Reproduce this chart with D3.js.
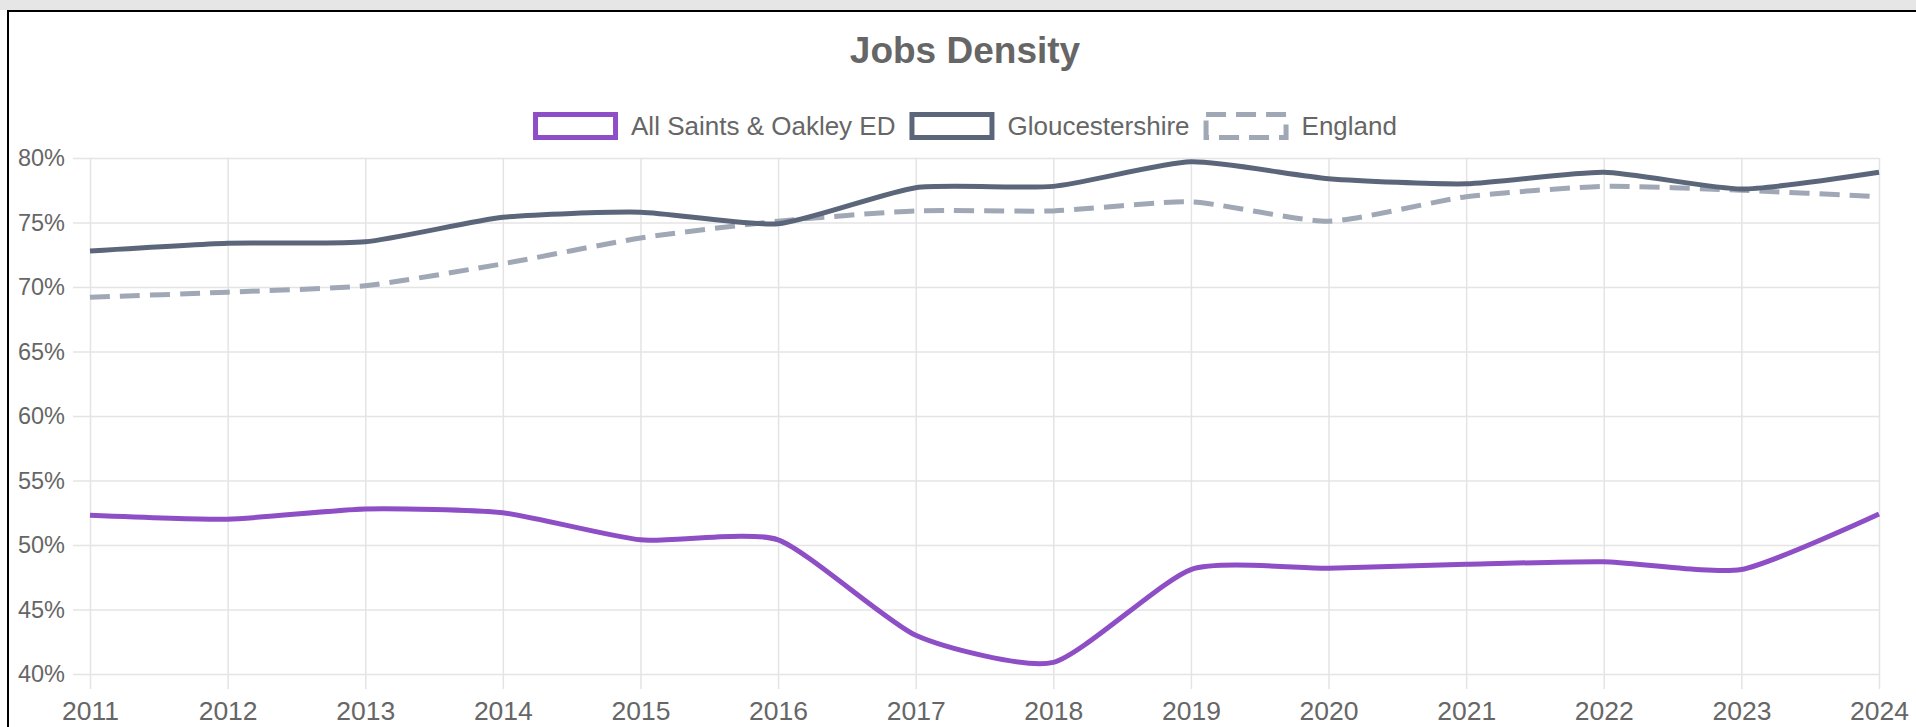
<!DOCTYPE html>
<html>
<head>
<meta charset="utf-8">
<script src="https://cdn.jsdelivr.net/npm/d3@7"></script>
<style>
  body { margin: 0; background: #fff; overflow: hidden; }
  .topbar { position: absolute; left: 0; top: 0; width: 1916px; height: 10px; background: #e6e6e6; }
  .frame { position: absolute; left: 7px; top: 10px; width: 1920px; height: 730px;
           border-top: 2px solid #000; border-left: 2px solid #000; }
  svg { position: absolute; left: 0; top: 0; }
  text { font-family: "Liberation Sans", Arial, sans-serif; fill: #666; }
</style>
</head>
<body>
<div class="topbar"></div>
<div class="frame"></div>
<svg id="chart" width="1916" height="727"></svg>
<script>
const years = ["2011","2012","2013","2014","2015","2016","2017","2018","2019","2020","2021","2022","2023","2024"];
const allSaints = [52.3, 52.0, 52.8, 52.5, 50.4, 50.4, 43.0, 40.9, 48.1, 48.2, 48.5, 48.7, 48.1, 52.4];
const glos      = [72.8, 73.4, 73.5, 75.4, 75.8, 74.9, 77.7, 77.8, 79.7, 78.4, 78.0, 78.9, 77.6, 78.9];
const england   = [69.2, 69.6, 70.1, 71.8, 73.8, 75.1, 75.9, 75.9, 76.6, 75.1, 77.0, 77.8, 77.5, 77.0];
const yTicks = [40, 45, 50, 55, 60, 65, 70, 75, 80];

const series = [
  { name: "All Saints & Oakley ED", values: allSaints, color: "#8e4ec6", dash: null },
  { name: "Gloucestershire", values: glos, color: "#5c667a", dash: null },
  { name: "England", values: england, color: "#a0a7b5", dash: "20,10" }
];

const plotL = 90, plotR = 1879, plotT = 158, plotB = 674;
const svg = d3.select("#chart");

const x = d3.scalePoint().domain(years).range([plotL, plotR]);
const y = d3.scaleLinear().domain([40, 80]).range([plotB, plotT]);

// y axis + horizontal grid
const gy = svg.append("g").attr("transform", `translate(${plotL},0)`)
  .call(d3.axisLeft(y).tickValues(yTicks).tickSize(17).tickPadding(8).tickFormat(d => d + "%"));
gy.select(".domain").remove();
gy.selectAll(".tick line").attr("x1", plotR - plotL).attr("stroke", "#e4e4e4").attr("stroke-width", 1.5);
gy.selectAll(".tick text").attr("font-size", "23.5px").attr("fill", "#666");

// x axis + vertical grid
const gx = svg.append("g").attr("transform", `translate(0,${plotB})`)
  .call(d3.axisBottom(x).tickSize(15).tickPadding(12));
gx.select(".domain").remove();
gx.selectAll(".tick line").attr("y1", plotT - plotB).attr("stroke", "#e4e4e4").attr("stroke-width", 1.5);
gx.selectAll(".tick text").attr("font-size", "26.5px").attr("fill", "#666");

// lines, lightly smoothed
const line = d3.line()
  .x((d, i) => x(years[i]))
  .y(d => y(d))
  .curve(d3.curveCardinal.tension(0.4));

svg.append("g").selectAll("path")
  .data(series.slice().reverse())
  .enter().append("path")
    .attr("d", d => line(d.values))
    .attr("fill", "none")
    .attr("stroke", d => d.color)
    .attr("stroke-width", 5)
    .attr("stroke-dasharray", d => d.dash)
    .attr("stroke-linejoin", "round");

// title
svg.append("text")
  .attr("x", 965).attr("y", 63)
  .attr("text-anchor", "middle")
  .attr("font-size", "37px").attr("font-weight", "bold")
  .text("Jobs Density");

// legend
const boxW = 80, boxH = 23, gap = 13, itemGap = 14;
const legend = svg.append("g");
const items = legend.selectAll("g").data(series).enter().append("g");
items.append("rect")
  .attr("x", 2.5).attr("y", -11.5)
  .attr("width", boxW).attr("height", boxH)
  .attr("fill", "none")
  .attr("stroke", d => d.color)
  .attr("stroke-width", 5)
  .attr("stroke-dasharray", d => d.dash);
items.append("text")
  .attr("x", boxW + 5 + gap).attr("y", 0).attr("dy", "0.35em")
  .attr("font-size", "26px")
  .text(d => d.name);

let widths = [];
items.each(function() { widths.push(boxW + 5 + gap + d3.select(this).select("text").node().getComputedTextLength()); });
const total = d3.sum(widths) + itemGap * (widths.length - 1);
let cx = 965 - total / 2;
items.attr("transform", (d, i) => {
  const t = `translate(${cx},126)`;
  cx += widths[i] + itemGap;
  return t;
});
</script>
</body>
</html>
